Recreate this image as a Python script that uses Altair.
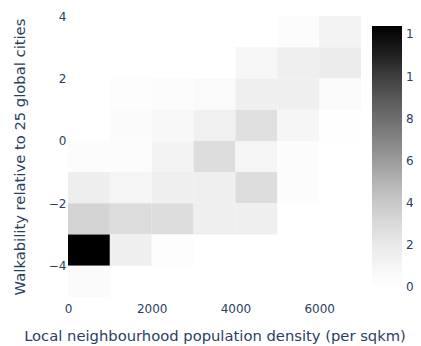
import altair as alt
import pandas as pd

# Bin starts (x: population density bins of 1000, y: walkability bins of 1)
x_start = [5000, 6000,
           4000, 5000, 6000,
           1000, 2000, 3000, 4000, 5000, 6000,
           1000, 2000, 3000, 4000, 5000, 6000,
           0, 1000, 2000, 3000, 4000, 5000,
           0, 1000, 2000, 3000, 4000, 5000,
           0, 1000, 2000, 3000, 4000,
           0, 1000, 2000,
           0]
y_start = [3, 3,
           2, 2, 2,
           1, 1, 1, 1, 1, 1,
           0, 0, 0, 0, 0, 0,
           -1, -1, -1, -1, -1, -1,
           -2, -2, -2, -2, -2, -2,
           -3, -3, -3, -3, -3,
           -4, -4, -4,
           -5]
counts = [3, 12,
          8, 16, 18,
          2, 3, 5, 16, 16, 5,
          4, 7, 15, 26, 9, 1,
          3, 3, 12, 28, 10, 3,
          17, 10, 16, 16, 28, 3,
          34, 29, 28, 16, 16,
          124, 16, 2,
          4]

x_ticks = [0, 2000, 4000, 6000]
y_ticks = [-4, -2, 0, 2, 4]
c_ticks = [0, 20, 40, 60, 80, 100, 120]

# Greys colour scale (white -> black), ColorBrewer stops
grey_stops = ["#ffffff", "#f0f0f0", "#d9d9d9", "#bdbdbd", "#969696",
              "#737373", "#525252", "#252525", "#000000"]
zmax = 124
grey_domain = [zmax * i / 8 for i in range(9)]
grey_domain[0] = -0.01

df = pd.DataFrame({"x": x_start, "y": y_start, "count": counts})

FONT = "DejaVu Sans"
TXT = "#2a3f5f"

chart = alt.Chart(df).transform_calculate(
    x2="datum.x + 1000", y2="datum.y + 1"
).mark_rect(strokeWidth=0, opacity=1).encode(
    x=alt.X("x:Q", scale=alt.Scale(domain=[0, 7000], nice=False, zero=False),
            axis=alt.Axis(values=x_ticks, format="d",
                          title="Local neighbourhood population density (per sqkm)",
                          grid=False, domain=False, ticks=False, labelPadding=6,
                          titlePadding=14, labelFlush=False)),
    x2="x2:Q",
    y=alt.Y("y:Q", scale=alt.Scale(domain=[-5, 4], nice=False, zero=False),
            axis=alt.Axis(values=y_ticks, title="Walkability relative to 25 global cities",
                          grid=False, domain=False, ticks=False, labelPadding=2,
                          titlePadding=21, labelFlush=False)),
    y2="y2:Q",
    color=alt.Color("count:Q",
                    scale=alt.Scale(domain=grey_domain, range=grey_stops,
                                    nice=False, interpolate="rgb"),
                    legend=alt.Legend(title=None, orient="none", legendX=304, legendY=10,
                                      direction="vertical", gradientLength=261,
                                      gradientThickness=30, values=c_ticks,
                                      labelOffset=4, padding=0, gradientStrokeWidth=0,
                                      labelFontSize=12, labelColor=TXT, labelFont=FONT)),
).properties(
    width=293, height=281,
    autosize=alt.AutoSizeParams(type="none"),
    padding={"left": 60, "top": 8, "right": 52, "bottom": 49},
).configure_view(stroke=None).configure_axis(
    labelFont=FONT, titleFont=FONT, labelFontSize=12, titleFontSize=14.75,
    labelColor=TXT, titleColor=TXT, titleFontWeight="normal"
)

chart.save("out.html", embed_options={"renderer": "svg", "actions": False})
